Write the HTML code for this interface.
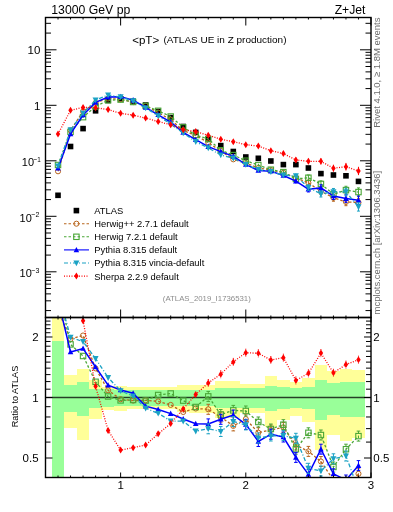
<!DOCTYPE html><html><head><meta charset="utf-8"><style>html,body{margin:0;padding:0;background:#fff;width:393px;height:512px;overflow:hidden}</style></head><body><svg width="393" height="512" viewBox="0 0 393 512" style="display:block;will-change:transform;font-family:'Liberation Sans',sans-serif">
<g shape-rendering="crispEdges">
<rect x="51.76" y="317.50" width="12.52" height="160.00" fill="#ffff99"/>
<rect x="64.28" y="375.20" width="12.52" height="52.33" fill="#ffff99"/>
<rect x="76.80" y="369.20" width="12.52" height="70.44" fill="#ffff99"/>
<rect x="89.32" y="380.30" width="12.52" height="38.64" fill="#ffff99"/>
<rect x="101.84" y="386.50" width="12.52" height="23.59" fill="#ffff99"/>
<rect x="114.36" y="386.00" width="12.52" height="24.75" fill="#ffff99"/>
<rect x="126.88" y="387.00" width="12.52" height="22.44" fill="#ffff99"/>
<rect x="139.39" y="387.00" width="12.52" height="22.44" fill="#ffff99"/>
<rect x="151.91" y="387.00" width="12.52" height="22.44" fill="#ffff99"/>
<rect x="164.43" y="387.00" width="12.52" height="22.44" fill="#ffff99"/>
<rect x="176.95" y="385.00" width="12.52" height="27.09" fill="#ffff99"/>
<rect x="189.47" y="384.50" width="12.52" height="28.28" fill="#ffff99"/>
<rect x="201.99" y="384.50" width="12.52" height="28.28" fill="#ffff99"/>
<rect x="214.51" y="381.00" width="12.52" height="36.86" fill="#ffff99"/>
<rect x="227.03" y="381.00" width="12.52" height="36.86" fill="#ffff99"/>
<rect x="239.55" y="384.00" width="12.52" height="29.48" fill="#ffff99"/>
<rect x="252.07" y="384.00" width="12.52" height="29.48" fill="#ffff99"/>
<rect x="264.59" y="375.50" width="12.52" height="51.48" fill="#ffff99"/>
<rect x="277.11" y="379.60" width="12.52" height="40.44" fill="#ffff99"/>
<rect x="289.62" y="382.30" width="12.52" height="33.62" fill="#ffff99"/>
<rect x="302.14" y="378.20" width="12.52" height="44.12" fill="#ffff99"/>
<rect x="314.66" y="365.10" width="12.52" height="84.49" fill="#ffff99"/>
<rect x="327.18" y="371.40" width="12.52" height="63.50" fill="#ffff99"/>
<rect x="339.70" y="368.70" width="12.52" height="72.07" fill="#ffff99"/>
<rect x="352.22" y="370.00" width="12.52" height="67.87" fill="#ffff99"/>
<rect x="51.76" y="340.80" width="12.52" height="136.70" fill="#99ff99"/>
<rect x="64.28" y="385.40" width="12.52" height="26.15" fill="#99ff99"/>
<rect x="76.80" y="382.40" width="12.52" height="33.37" fill="#99ff99"/>
<rect x="89.32" y="388.50" width="12.52" height="19.04" fill="#99ff99"/>
<rect x="101.84" y="389.00" width="12.52" height="17.92" fill="#99ff99"/>
<rect x="114.36" y="390.00" width="12.52" height="15.71" fill="#99ff99"/>
<rect x="126.88" y="390.00" width="12.52" height="15.71" fill="#99ff99"/>
<rect x="139.39" y="390.00" width="12.52" height="15.71" fill="#99ff99"/>
<rect x="151.91" y="390.00" width="12.52" height="15.71" fill="#99ff99"/>
<rect x="164.43" y="390.00" width="12.52" height="15.71" fill="#99ff99"/>
<rect x="176.95" y="389.50" width="12.52" height="16.81" fill="#99ff99"/>
<rect x="189.47" y="389.50" width="12.52" height="16.81" fill="#99ff99"/>
<rect x="201.99" y="389.50" width="12.52" height="16.81" fill="#99ff99"/>
<rect x="214.51" y="388.00" width="12.52" height="20.16" fill="#99ff99"/>
<rect x="227.03" y="388.00" width="12.52" height="20.16" fill="#99ff99"/>
<rect x="239.55" y="388.00" width="12.52" height="20.16" fill="#99ff99"/>
<rect x="252.07" y="388.00" width="12.52" height="20.16" fill="#99ff99"/>
<rect x="264.59" y="385.50" width="12.52" height="25.92" fill="#99ff99"/>
<rect x="277.11" y="387.00" width="12.52" height="22.44" fill="#99ff99"/>
<rect x="289.62" y="388.00" width="12.52" height="20.16" fill="#99ff99"/>
<rect x="302.14" y="387.00" width="12.52" height="22.44" fill="#99ff99"/>
<rect x="314.66" y="379.80" width="12.52" height="39.93" fill="#99ff99"/>
<rect x="327.18" y="383.20" width="12.52" height="31.41" fill="#99ff99"/>
<rect x="339.70" y="381.80" width="12.52" height="34.86" fill="#99ff99"/>
<rect x="352.22" y="381.80" width="12.52" height="34.86" fill="#99ff99"/>
</g>
<line x1="45.5" y1="397.5" x2="371.0" y2="397.5" stroke="#000" stroke-opacity="0.75" stroke-width="1.5"/>
<defs><clipPath id="cu"><rect x="45.5" y="17.5" width="325.5" height="300.0"/></clipPath><clipPath id="cr"><rect x="45.5" y="317.5" width="325.5" height="160.0"/></clipPath></defs>
<g clip-path="url(#cu)">
<rect x="55.22" y="192.50" width="5.60" height="5.60" fill="#000"/>
<rect x="67.74" y="143.70" width="5.60" height="5.60" fill="#000"/>
<rect x="80.26" y="125.80" width="5.60" height="5.60" fill="#000"/>
<rect x="92.78" y="108.00" width="5.60" height="5.60" fill="#000"/>
<rect x="105.30" y="97.70" width="5.60" height="5.60" fill="#000"/>
<rect x="117.82" y="96.00" width="5.60" height="5.60" fill="#000"/>
<rect x="130.33" y="98.50" width="5.60" height="5.60" fill="#000"/>
<rect x="142.85" y="102.20" width="5.60" height="5.60" fill="#000"/>
<rect x="155.37" y="108.70" width="5.60" height="5.60" fill="#000"/>
<rect x="167.89" y="114.80" width="5.60" height="5.60" fill="#000"/>
<rect x="180.41" y="123.70" width="5.60" height="5.60" fill="#000"/>
<rect x="192.93" y="129.60" width="5.60" height="5.60" fill="#000"/>
<rect x="205.45" y="136.50" width="5.60" height="5.60" fill="#000"/>
<rect x="217.97" y="142.80" width="5.60" height="5.60" fill="#000"/>
<rect x="230.49" y="148.70" width="5.60" height="5.60" fill="#000"/>
<rect x="243.01" y="154.20" width="5.60" height="5.60" fill="#000"/>
<rect x="255.53" y="155.50" width="5.60" height="5.60" fill="#000"/>
<rect x="268.05" y="158.20" width="5.60" height="5.60" fill="#000"/>
<rect x="280.57" y="161.80" width="5.60" height="5.60" fill="#000"/>
<rect x="293.08" y="161.80" width="5.60" height="5.60" fill="#000"/>
<rect x="305.60" y="165.20" width="5.60" height="5.60" fill="#000"/>
<rect x="318.12" y="170.80" width="5.60" height="5.60" fill="#000"/>
<rect x="330.64" y="172.20" width="5.60" height="5.60" fill="#000"/>
<rect x="343.16" y="173.00" width="5.60" height="5.60" fill="#000"/>
<rect x="355.68" y="178.60" width="5.60" height="5.60" fill="#000"/>
<polyline points="58.02,171.30 70.54,130.35 83.06,111.48 95.58,102.76 108.10,98.51 120.62,99.27 133.13,102.16 145.65,105.77 158.17,112.58 170.69,119.64 183.21,130.50 195.73,135.44 208.25,142.56 220.77,151.01 233.29,159.34 245.81,162.96 258.33,168.02 270.85,169.97 283.37,172.86 295.88,177.72 308.40,182.88 320.92,191.27 333.44,197.78 345.96,201.89 358.48,202.47" fill="none" stroke="#b8651d" stroke-width="1.3" stroke-dasharray="2.5,2"/>
<circle cx="58.02" cy="171.30" r="2.55" fill="none" stroke="#b8651d" stroke-width="1"/>
<circle cx="70.54" cy="130.35" r="2.55" fill="none" stroke="#b8651d" stroke-width="1"/>
<circle cx="83.06" cy="111.48" r="2.55" fill="none" stroke="#b8651d" stroke-width="1"/>
<circle cx="95.58" cy="102.76" r="2.55" fill="none" stroke="#b8651d" stroke-width="1"/>
<circle cx="108.10" cy="98.51" r="2.55" fill="none" stroke="#b8651d" stroke-width="1"/>
<circle cx="120.62" cy="99.27" r="2.55" fill="none" stroke="#b8651d" stroke-width="1"/>
<circle cx="133.13" cy="102.16" r="2.55" fill="none" stroke="#b8651d" stroke-width="1"/>
<circle cx="145.65" cy="105.77" r="2.55" fill="none" stroke="#b8651d" stroke-width="1"/>
<circle cx="158.17" cy="112.58" r="2.55" fill="none" stroke="#b8651d" stroke-width="1"/>
<circle cx="170.69" cy="119.64" r="2.55" fill="none" stroke="#b8651d" stroke-width="1"/>
<circle cx="183.21" cy="130.50" r="2.55" fill="none" stroke="#b8651d" stroke-width="1"/>
<circle cx="195.73" cy="135.44" r="2.55" fill="none" stroke="#b8651d" stroke-width="1"/>
<circle cx="208.25" cy="142.56" r="2.55" fill="none" stroke="#b8651d" stroke-width="1"/>
<circle cx="220.77" cy="151.01" r="2.55" fill="none" stroke="#b8651d" stroke-width="1"/>
<circle cx="233.29" cy="159.34" r="2.55" fill="none" stroke="#b8651d" stroke-width="1"/>
<path d="M245.81,161.96V163.96" stroke="#b8651d" stroke-width="1"/>
<circle cx="245.81" cy="162.96" r="2.55" fill="none" stroke="#b8651d" stroke-width="1"/>
<path d="M258.33,166.67V169.37" stroke="#b8651d" stroke-width="1"/>
<circle cx="258.33" cy="168.02" r="2.55" fill="none" stroke="#b8651d" stroke-width="1"/>
<path d="M270.85,168.27V171.67" stroke="#b8651d" stroke-width="1"/>
<circle cx="270.85" cy="169.97" r="2.55" fill="none" stroke="#b8651d" stroke-width="1"/>
<path d="M283.37,170.81V174.91" stroke="#b8651d" stroke-width="1"/>
<circle cx="283.37" cy="172.86" r="2.55" fill="none" stroke="#b8651d" stroke-width="1"/>
<path d="M295.88,175.32V180.12" stroke="#b8651d" stroke-width="1"/>
<circle cx="295.88" cy="177.72" r="2.55" fill="none" stroke="#b8651d" stroke-width="1"/>
<path d="M308.40,180.13V185.63M306.90,180.13h3M306.90,185.63h3" stroke="#b8651d" stroke-width="1"/>
<circle cx="308.40" cy="182.88" r="2.55" fill="none" stroke="#b8651d" stroke-width="1"/>
<path d="M320.92,188.17V194.37M319.42,188.17h3M319.42,194.37h3" stroke="#b8651d" stroke-width="1"/>
<circle cx="320.92" cy="191.27" r="2.55" fill="none" stroke="#b8651d" stroke-width="1"/>
<path d="M333.44,194.33V201.23M331.94,194.33h3M331.94,201.23h3" stroke="#b8651d" stroke-width="1"/>
<circle cx="333.44" cy="197.78" r="2.55" fill="none" stroke="#b8651d" stroke-width="1"/>
<path d="M345.96,198.09V205.69M344.46,198.09h3M344.46,205.69h3" stroke="#b8651d" stroke-width="1"/>
<circle cx="345.96" cy="201.89" r="2.55" fill="none" stroke="#b8651d" stroke-width="1"/>
<path d="M358.48,198.32V206.62M356.98,198.32h3M356.98,206.62h3" stroke="#b8651d" stroke-width="1"/>
<circle cx="358.48" cy="202.47" r="2.55" fill="none" stroke="#b8651d" stroke-width="1"/>
<polyline points="58.02,165.00 70.54,131.84 83.06,117.14 95.58,106.46 108.10,100.22 120.62,99.60 133.13,101.99 145.65,105.86 158.17,110.81 170.69,116.50 183.21,127.36 195.73,135.02 208.25,139.00 220.77,150.29 233.29,155.06 245.81,160.73 258.33,165.06 270.85,169.70 283.37,172.11 295.88,178.88 308.40,177.75 320.92,183.95 333.44,194.19 345.96,190.08 358.48,192.06" fill="none" stroke="#49a636" stroke-width="1.3" stroke-dasharray="2.5,2"/>
<rect x="55.32" y="162.30" width="5.40" height="5.40" fill="none" stroke="#49a636" stroke-width="1.1"/>
<rect x="67.84" y="129.14" width="5.40" height="5.40" fill="none" stroke="#49a636" stroke-width="1.1"/>
<rect x="80.36" y="114.44" width="5.40" height="5.40" fill="none" stroke="#49a636" stroke-width="1.1"/>
<rect x="92.88" y="103.76" width="5.40" height="5.40" fill="none" stroke="#49a636" stroke-width="1.1"/>
<rect x="105.40" y="97.52" width="5.40" height="5.40" fill="none" stroke="#49a636" stroke-width="1.1"/>
<rect x="117.92" y="96.90" width="5.40" height="5.40" fill="none" stroke="#49a636" stroke-width="1.1"/>
<rect x="130.43" y="99.29" width="5.40" height="5.40" fill="none" stroke="#49a636" stroke-width="1.1"/>
<rect x="142.95" y="103.16" width="5.40" height="5.40" fill="none" stroke="#49a636" stroke-width="1.1"/>
<rect x="155.47" y="108.11" width="5.40" height="5.40" fill="none" stroke="#49a636" stroke-width="1.1"/>
<rect x="167.99" y="113.80" width="5.40" height="5.40" fill="none" stroke="#49a636" stroke-width="1.1"/>
<rect x="180.51" y="124.66" width="5.40" height="5.40" fill="none" stroke="#49a636" stroke-width="1.1"/>
<rect x="193.03" y="132.32" width="5.40" height="5.40" fill="none" stroke="#49a636" stroke-width="1.1"/>
<rect x="205.55" y="136.30" width="5.40" height="5.40" fill="none" stroke="#49a636" stroke-width="1.1"/>
<rect x="218.07" y="147.59" width="5.40" height="5.40" fill="none" stroke="#49a636" stroke-width="1.1"/>
<rect x="230.59" y="152.36" width="5.40" height="5.40" fill="none" stroke="#49a636" stroke-width="1.1"/>
<path d="M245.81,159.73V161.73" stroke="#49a636" stroke-width="1"/>
<rect x="243.11" y="158.03" width="5.40" height="5.40" fill="none" stroke="#49a636" stroke-width="1.1"/>
<path d="M258.33,163.71V166.41" stroke="#49a636" stroke-width="1"/>
<rect x="255.63" y="162.36" width="5.40" height="5.40" fill="none" stroke="#49a636" stroke-width="1.1"/>
<path d="M270.85,168.00V171.40" stroke="#49a636" stroke-width="1"/>
<rect x="268.15" y="167.00" width="5.40" height="5.40" fill="none" stroke="#49a636" stroke-width="1.1"/>
<path d="M283.37,170.06V174.16" stroke="#49a636" stroke-width="1"/>
<rect x="280.67" y="169.41" width="5.40" height="5.40" fill="none" stroke="#49a636" stroke-width="1.1"/>
<path d="M295.88,176.48V181.28" stroke="#49a636" stroke-width="1"/>
<rect x="293.18" y="176.18" width="5.40" height="5.40" fill="none" stroke="#49a636" stroke-width="1.1"/>
<path d="M308.40,175.00V180.50M306.90,175.00h3M306.90,180.50h3" stroke="#49a636" stroke-width="1"/>
<rect x="305.70" y="175.05" width="5.40" height="5.40" fill="none" stroke="#49a636" stroke-width="1.1"/>
<path d="M320.92,180.85V187.05M319.42,180.85h3M319.42,187.05h3" stroke="#49a636" stroke-width="1"/>
<rect x="318.22" y="181.25" width="5.40" height="5.40" fill="none" stroke="#49a636" stroke-width="1.1"/>
<path d="M333.44,190.74V197.64M331.94,190.74h3M331.94,197.64h3" stroke="#49a636" stroke-width="1"/>
<rect x="330.74" y="191.49" width="5.40" height="5.40" fill="none" stroke="#49a636" stroke-width="1.1"/>
<path d="M345.96,186.28V193.88M344.46,186.28h3M344.46,193.88h3" stroke="#49a636" stroke-width="1"/>
<rect x="343.26" y="187.38" width="5.40" height="5.40" fill="none" stroke="#49a636" stroke-width="1.1"/>
<path d="M358.48,187.91V196.21M356.98,187.91h3M356.98,196.21h3" stroke="#49a636" stroke-width="1"/>
<rect x="355.78" y="189.36" width="5.40" height="5.40" fill="none" stroke="#49a636" stroke-width="1.1"/>
<polyline points="58.02,168.30 70.54,133.94 83.06,115.07 95.58,102.38 108.10,97.10 120.62,96.73 133.13,100.11 145.65,107.40 158.17,114.81 170.69,122.05 183.21,132.44 195.73,139.66 208.25,146.59 220.77,151.62 233.29,156.33 245.81,164.43 258.33,170.45 270.85,171.13 283.37,175.51 295.88,181.14 308.40,189.23 320.92,187.88 333.44,196.07 345.96,198.58 358.48,200.20" fill="none" stroke="#0000ff" stroke-width="1.5"/>
<path d="M58.02,165.30L60.82,170.60L55.22,170.60Z" fill="#0000ff"/>
<path d="M70.54,130.94L73.34,136.24L67.74,136.24Z" fill="#0000ff"/>
<path d="M83.06,112.07L85.86,117.37L80.26,117.37Z" fill="#0000ff"/>
<path d="M95.58,99.38L98.38,104.68L92.78,104.68Z" fill="#0000ff"/>
<path d="M108.10,94.10L110.90,99.40L105.30,99.40Z" fill="#0000ff"/>
<path d="M120.62,93.73L123.42,99.03L117.82,99.03Z" fill="#0000ff"/>
<path d="M133.13,97.11L135.93,102.41L130.33,102.41Z" fill="#0000ff"/>
<path d="M145.65,104.40L148.45,109.70L142.85,109.70Z" fill="#0000ff"/>
<path d="M158.17,111.81L160.97,117.11L155.37,117.11Z" fill="#0000ff"/>
<path d="M170.69,119.05L173.49,124.35L167.89,124.35Z" fill="#0000ff"/>
<path d="M183.21,129.44L186.01,134.74L180.41,134.74Z" fill="#0000ff"/>
<path d="M195.73,136.66L198.53,141.96L192.93,141.96Z" fill="#0000ff"/>
<path d="M208.25,143.59L211.05,148.89L205.45,148.89Z" fill="#0000ff"/>
<path d="M220.77,148.62L223.57,153.92L217.97,153.92Z" fill="#0000ff"/>
<path d="M233.29,153.33L236.09,158.63L230.49,158.63Z" fill="#0000ff"/>
<path d="M245.81,163.43V165.43" stroke="#0000ff" stroke-width="1"/>
<path d="M245.81,161.43L248.61,166.73L243.01,166.73Z" fill="#0000ff"/>
<path d="M258.33,169.10V171.80" stroke="#0000ff" stroke-width="1"/>
<path d="M258.33,167.45L261.13,172.75L255.53,172.75Z" fill="#0000ff"/>
<path d="M270.85,169.43V172.83" stroke="#0000ff" stroke-width="1"/>
<path d="M270.85,168.13L273.65,173.43L268.05,173.43Z" fill="#0000ff"/>
<path d="M283.37,173.46V177.56" stroke="#0000ff" stroke-width="1"/>
<path d="M283.37,172.51L286.17,177.81L280.57,177.81Z" fill="#0000ff"/>
<path d="M295.88,178.74V183.54" stroke="#0000ff" stroke-width="1"/>
<path d="M295.88,178.14L298.68,183.44L293.08,183.44Z" fill="#0000ff"/>
<path d="M308.40,186.48V191.98M306.90,186.48h3M306.90,191.98h3" stroke="#0000ff" stroke-width="1"/>
<path d="M308.40,186.23L311.20,191.53L305.60,191.53Z" fill="#0000ff"/>
<path d="M320.92,184.78V190.98M319.42,184.78h3M319.42,190.98h3" stroke="#0000ff" stroke-width="1"/>
<path d="M320.92,184.88L323.72,190.18L318.12,190.18Z" fill="#0000ff"/>
<path d="M333.44,192.62V199.52M331.94,192.62h3M331.94,199.52h3" stroke="#0000ff" stroke-width="1"/>
<path d="M333.44,193.07L336.24,198.37L330.64,198.37Z" fill="#0000ff"/>
<path d="M345.96,194.78V202.38M344.46,194.78h3M344.46,202.38h3" stroke="#0000ff" stroke-width="1"/>
<path d="M345.96,195.58L348.76,200.88L343.16,200.88Z" fill="#0000ff"/>
<path d="M358.48,196.05V204.35M356.98,196.05h3M356.98,204.35h3" stroke="#0000ff" stroke-width="1"/>
<path d="M358.48,197.20L361.28,202.50L355.68,202.50Z" fill="#0000ff"/>
<polyline points="58.02,166.00 70.54,129.88 83.06,113.19 95.58,100.06 108.10,95.01 120.62,96.95 133.13,100.89 145.65,107.98 158.17,115.86 170.69,124.09 183.21,133.04 195.73,141.71 208.25,147.94 220.77,154.99 233.29,158.13 245.81,164.57 258.33,169.48 270.85,171.63 283.37,175.12 295.88,175.87 308.40,187.55 320.92,193.89 333.44,191.93 345.96,191.95 358.48,206.94" fill="none" stroke="#1ba2c4" stroke-width="1.3" stroke-dasharray="4,2,1,2"/>
<path d="M58.02,169.30L61.02,163.40L55.02,163.40Z" fill="#1ba2c4"/>
<path d="M70.54,133.18L73.54,127.28L67.54,127.28Z" fill="#1ba2c4"/>
<path d="M83.06,116.49L86.06,110.59L80.06,110.59Z" fill="#1ba2c4"/>
<path d="M95.58,103.36L98.58,97.46L92.58,97.46Z" fill="#1ba2c4"/>
<path d="M108.10,98.31L111.10,92.41L105.10,92.41Z" fill="#1ba2c4"/>
<path d="M120.62,100.25L123.62,94.35L117.62,94.35Z" fill="#1ba2c4"/>
<path d="M133.13,104.19L136.13,98.29L130.13,98.29Z" fill="#1ba2c4"/>
<path d="M145.65,111.28L148.65,105.38L142.65,105.38Z" fill="#1ba2c4"/>
<path d="M158.17,119.16L161.17,113.26L155.17,113.26Z" fill="#1ba2c4"/>
<path d="M170.69,127.39L173.69,121.49L167.69,121.49Z" fill="#1ba2c4"/>
<path d="M183.21,136.34L186.21,130.44L180.21,130.44Z" fill="#1ba2c4"/>
<path d="M195.73,145.01L198.73,139.11L192.73,139.11Z" fill="#1ba2c4"/>
<path d="M208.25,151.24L211.25,145.34L205.25,145.34Z" fill="#1ba2c4"/>
<path d="M220.77,158.29L223.77,152.39L217.77,152.39Z" fill="#1ba2c4"/>
<path d="M233.29,161.43L236.29,155.53L230.29,155.53Z" fill="#1ba2c4"/>
<path d="M245.81,163.57V165.57" stroke="#1ba2c4" stroke-width="1"/>
<path d="M245.81,167.87L248.81,161.97L242.81,161.97Z" fill="#1ba2c4"/>
<path d="M258.33,168.13V170.83" stroke="#1ba2c4" stroke-width="1"/>
<path d="M258.33,172.78L261.33,166.88L255.33,166.88Z" fill="#1ba2c4"/>
<path d="M270.85,169.93V173.33" stroke="#1ba2c4" stroke-width="1"/>
<path d="M270.85,174.93L273.85,169.03L267.85,169.03Z" fill="#1ba2c4"/>
<path d="M283.37,173.07V177.17" stroke="#1ba2c4" stroke-width="1"/>
<path d="M283.37,178.42L286.37,172.52L280.37,172.52Z" fill="#1ba2c4"/>
<path d="M295.88,173.47V178.27" stroke="#1ba2c4" stroke-width="1"/>
<path d="M295.88,179.17L298.88,173.27L292.88,173.27Z" fill="#1ba2c4"/>
<path d="M308.40,184.80V190.30M306.90,184.80h3M306.90,190.30h3" stroke="#1ba2c4" stroke-width="1"/>
<path d="M308.40,190.85L311.40,184.95L305.40,184.95Z" fill="#1ba2c4"/>
<path d="M320.92,190.79V196.99M319.42,190.79h3M319.42,196.99h3" stroke="#1ba2c4" stroke-width="1"/>
<path d="M320.92,197.19L323.92,191.29L317.92,191.29Z" fill="#1ba2c4"/>
<path d="M333.44,188.48V195.38M331.94,188.48h3M331.94,195.38h3" stroke="#1ba2c4" stroke-width="1"/>
<path d="M333.44,195.23L336.44,189.33L330.44,189.33Z" fill="#1ba2c4"/>
<path d="M345.96,188.15V195.75M344.46,188.15h3M344.46,195.75h3" stroke="#1ba2c4" stroke-width="1"/>
<path d="M345.96,195.25L348.96,189.35L342.96,189.35Z" fill="#1ba2c4"/>
<path d="M358.48,202.79V211.09M356.98,202.79h3M356.98,211.09h3" stroke="#1ba2c4" stroke-width="1"/>
<path d="M358.48,210.24L361.48,204.34L355.48,204.34Z" fill="#1ba2c4"/>
<polyline points="58.02,134.00 70.54,110.30 83.06,107.39 95.58,107.71 108.10,109.58 120.62,113.32 133.13,115.16 145.65,118.12 158.17,121.52 170.69,124.81 183.21,129.65 195.73,131.57 208.25,135.30 220.77,139.17 233.29,141.67 245.81,144.63 258.33,146.10 270.85,150.65 283.37,153.61 295.88,159.88 308.40,161.32 320.92,161.34 333.44,168.18 345.96,166.72 358.48,170.96" fill="none" stroke="#ff0000" stroke-width="1.3" stroke-dasharray="1,1.5"/>
<path d="M58.02,130.50L60.22,134.00L58.02,137.50L55.82,134.00Z" fill="#ff0000"/>
<path d="M70.54,106.80L72.74,110.30L70.54,113.80L68.34,110.30Z" fill="#ff0000"/>
<path d="M83.06,103.89L85.26,107.39L83.06,110.89L80.86,107.39Z" fill="#ff0000"/>
<path d="M95.58,104.21L97.78,107.71L95.58,111.21L93.38,107.71Z" fill="#ff0000"/>
<path d="M108.10,106.08L110.30,109.58L108.10,113.08L105.90,109.58Z" fill="#ff0000"/>
<path d="M120.62,109.82L122.82,113.32L120.62,116.82L118.42,113.32Z" fill="#ff0000"/>
<path d="M133.13,111.66L135.33,115.16L133.13,118.66L130.93,115.16Z" fill="#ff0000"/>
<path d="M145.65,114.62L147.85,118.12L145.65,121.62L143.45,118.12Z" fill="#ff0000"/>
<path d="M158.17,118.02L160.37,121.52L158.17,125.02L155.97,121.52Z" fill="#ff0000"/>
<path d="M170.69,121.31L172.89,124.81L170.69,128.31L168.49,124.81Z" fill="#ff0000"/>
<path d="M183.21,126.15L185.41,129.65L183.21,133.15L181.01,129.65Z" fill="#ff0000"/>
<path d="M195.73,128.07L197.93,131.57L195.73,135.07L193.53,131.57Z" fill="#ff0000"/>
<path d="M208.25,131.80L210.45,135.30L208.25,138.80L206.05,135.30Z" fill="#ff0000"/>
<path d="M220.77,135.67L222.97,139.17L220.77,142.67L218.57,139.17Z" fill="#ff0000"/>
<path d="M233.29,138.17L235.49,141.67L233.29,145.17L231.09,141.67Z" fill="#ff0000"/>
<path d="M245.81,143.63V145.63" stroke="#ff0000" stroke-width="1"/>
<path d="M245.81,141.13L248.01,144.63L245.81,148.13L243.61,144.63Z" fill="#ff0000"/>
<path d="M258.33,144.75V147.45" stroke="#ff0000" stroke-width="1"/>
<path d="M258.33,142.60L260.53,146.10L258.33,149.60L256.13,146.10Z" fill="#ff0000"/>
<path d="M270.85,148.95V152.35" stroke="#ff0000" stroke-width="1"/>
<path d="M270.85,147.15L273.05,150.65L270.85,154.15L268.65,150.65Z" fill="#ff0000"/>
<path d="M283.37,151.56V155.66" stroke="#ff0000" stroke-width="1"/>
<path d="M283.37,150.11L285.57,153.61L283.37,157.11L281.17,153.61Z" fill="#ff0000"/>
<path d="M295.88,157.48V162.28" stroke="#ff0000" stroke-width="1"/>
<path d="M295.88,156.38L298.08,159.88L295.88,163.38L293.68,159.88Z" fill="#ff0000"/>
<path d="M308.40,158.57V164.07" stroke="#ff0000" stroke-width="1"/>
<path d="M308.40,157.82L310.60,161.32L308.40,164.82L306.20,161.32Z" fill="#ff0000"/>
<path d="M320.92,158.24V164.44" stroke="#ff0000" stroke-width="1"/>
<path d="M320.92,157.84L323.12,161.34L320.92,164.84L318.72,161.34Z" fill="#ff0000"/>
<path d="M333.44,164.73V171.63" stroke="#ff0000" stroke-width="1"/>
<path d="M333.44,164.68L335.64,168.18L333.44,171.68L331.24,168.18Z" fill="#ff0000"/>
<path d="M345.96,162.92V170.52" stroke="#ff0000" stroke-width="1"/>
<path d="M345.96,163.22L348.16,166.72L345.96,170.22L343.76,166.72Z" fill="#ff0000"/>
<path d="M358.48,166.81V175.11" stroke="#ff0000" stroke-width="1"/>
<path d="M358.48,167.46L360.68,170.96L358.48,174.46L356.28,170.96Z" fill="#ff0000"/>
</g>
<g clip-path="url(#cr)">
<polyline points="58.02,310.58 70.54,339.00 83.06,335.50 95.58,368.40 108.10,390.30 120.62,399.20 133.13,400.60 145.65,400.30 158.17,401.40 170.69,404.90 183.21,412.00 195.73,408.50 208.25,409.30 220.77,417.10 233.29,425.90 245.81,419.10 258.33,432.70 270.85,430.00 283.37,427.40 295.88,445.00 308.40,451.40 320.92,461.50 333.44,480.00 345.96,492.00 358.48,473.80" fill="none" stroke="#b8651d" stroke-width="1.3" stroke-dasharray="2.5,2"/>
<circle cx="58.02" cy="310.58" r="2.55" fill="none" stroke="#b8651d" stroke-width="1"/>
<circle cx="70.54" cy="339.00" r="2.55" fill="none" stroke="#b8651d" stroke-width="1"/>
<circle cx="83.06" cy="335.50" r="2.55" fill="none" stroke="#b8651d" stroke-width="1"/>
<circle cx="95.58" cy="368.40" r="2.55" fill="none" stroke="#b8651d" stroke-width="1"/>
<circle cx="108.10" cy="390.30" r="2.55" fill="none" stroke="#b8651d" stroke-width="1"/>
<circle cx="120.62" cy="399.20" r="2.55" fill="none" stroke="#b8651d" stroke-width="1"/>
<circle cx="133.13" cy="400.60" r="2.55" fill="none" stroke="#b8651d" stroke-width="1"/>
<circle cx="145.65" cy="400.30" r="2.55" fill="none" stroke="#b8651d" stroke-width="1"/>
<circle cx="158.17" cy="401.40" r="2.55" fill="none" stroke="#b8651d" stroke-width="1"/>
<circle cx="170.69" cy="404.90" r="2.55" fill="none" stroke="#b8651d" stroke-width="1"/>
<circle cx="183.21" cy="412.00" r="2.55" fill="none" stroke="#b8651d" stroke-width="1"/>
<circle cx="195.73" cy="408.50" r="2.55" fill="none" stroke="#b8651d" stroke-width="1"/>
<path d="M208.25,404.30V414.30" stroke="#b8651d" stroke-width="1" stroke-dasharray="2.5,2"/>
<path d="M206.45,404.30h3.6M206.45,414.30h3.6" stroke="#b8651d" stroke-width="1"/>
<circle cx="208.25" cy="409.30" r="2.55" fill="none" stroke="#b8651d" stroke-width="1"/>
<path d="M220.77,412.10V422.10" stroke="#b8651d" stroke-width="1" stroke-dasharray="2.5,2"/>
<path d="M218.97,412.10h3.6M218.97,422.10h3.6" stroke="#b8651d" stroke-width="1"/>
<circle cx="220.77" cy="417.10" r="2.55" fill="none" stroke="#b8651d" stroke-width="1"/>
<path d="M233.29,420.90V430.90" stroke="#b8651d" stroke-width="1" stroke-dasharray="2.5,2"/>
<path d="M231.49,420.90h3.6M231.49,430.90h3.6" stroke="#b8651d" stroke-width="1"/>
<circle cx="233.29" cy="425.90" r="2.55" fill="none" stroke="#b8651d" stroke-width="1"/>
<path d="M245.81,414.10V424.10" stroke="#b8651d" stroke-width="1" stroke-dasharray="2.5,2"/>
<path d="M244.01,414.10h3.6M244.01,424.10h3.6" stroke="#b8651d" stroke-width="1"/>
<circle cx="245.81" cy="419.10" r="2.55" fill="none" stroke="#b8651d" stroke-width="1"/>
<path d="M258.33,427.70V437.70" stroke="#b8651d" stroke-width="1" stroke-dasharray="2.5,2"/>
<path d="M256.53,427.70h3.6M256.53,437.70h3.6" stroke="#b8651d" stroke-width="1"/>
<circle cx="258.33" cy="432.70" r="2.55" fill="none" stroke="#b8651d" stroke-width="1"/>
<path d="M270.85,425.00V435.00" stroke="#b8651d" stroke-width="1" stroke-dasharray="2.5,2"/>
<path d="M269.05,425.00h3.6M269.05,435.00h3.6" stroke="#b8651d" stroke-width="1"/>
<circle cx="270.85" cy="430.00" r="2.55" fill="none" stroke="#b8651d" stroke-width="1"/>
<path d="M283.37,422.40V432.40" stroke="#b8651d" stroke-width="1" stroke-dasharray="2.5,2"/>
<path d="M281.57,422.40h3.6M281.57,432.40h3.6" stroke="#b8651d" stroke-width="1"/>
<circle cx="283.37" cy="427.40" r="2.55" fill="none" stroke="#b8651d" stroke-width="1"/>
<path d="M295.88,440.00V450.00" stroke="#b8651d" stroke-width="1" stroke-dasharray="2.5,2"/>
<path d="M294.08,440.00h3.6M294.08,450.00h3.6" stroke="#b8651d" stroke-width="1"/>
<circle cx="295.88" cy="445.00" r="2.55" fill="none" stroke="#b8651d" stroke-width="1"/>
<path d="M308.40,446.40V456.40" stroke="#b8651d" stroke-width="1" stroke-dasharray="2.5,2"/>
<path d="M306.60,446.40h3.6M306.60,456.40h3.6" stroke="#b8651d" stroke-width="1"/>
<circle cx="308.40" cy="451.40" r="2.55" fill="none" stroke="#b8651d" stroke-width="1"/>
<path d="M320.92,456.50V466.50" stroke="#b8651d" stroke-width="1" stroke-dasharray="2.5,2"/>
<path d="M319.12,456.50h3.6M319.12,466.50h3.6" stroke="#b8651d" stroke-width="1"/>
<circle cx="320.92" cy="461.50" r="2.55" fill="none" stroke="#b8651d" stroke-width="1"/>
<path d="M333.44,475.00V485.00" stroke="#b8651d" stroke-width="1" stroke-dasharray="2.5,2"/>
<path d="M331.64,475.00h3.6M331.64,485.00h3.6" stroke="#b8651d" stroke-width="1"/>
<circle cx="333.44" cy="480.00" r="2.55" fill="none" stroke="#b8651d" stroke-width="1"/>
<path d="M345.96,487.00V497.00" stroke="#b8651d" stroke-width="1" stroke-dasharray="2.5,2"/>
<path d="M344.16,487.00h3.6M344.16,497.00h3.6" stroke="#b8651d" stroke-width="1"/>
<circle cx="345.96" cy="492.00" r="2.55" fill="none" stroke="#b8651d" stroke-width="1"/>
<path d="M358.48,468.80V478.80" stroke="#b8651d" stroke-width="1" stroke-dasharray="2.5,2"/>
<path d="M356.68,468.80h3.6M356.68,478.80h3.6" stroke="#b8651d" stroke-width="1"/>
<circle cx="358.48" cy="473.80" r="2.55" fill="none" stroke="#b8651d" stroke-width="1"/>
<polyline points="58.02,287.76 70.54,344.40 83.06,356.00 95.58,381.80 108.10,396.50 120.62,400.40 133.13,400.00 145.65,400.60 158.17,395.00 170.69,393.50 183.21,400.60 195.73,407.00 208.25,396.40 220.77,414.50 233.29,410.40 245.81,411.00 258.33,422.00 270.85,429.00 283.37,424.70 295.88,449.20 308.40,432.80 320.92,435.00 333.44,467.00 345.96,449.20 358.48,436.10" fill="none" stroke="#49a636" stroke-width="1.3" stroke-dasharray="2.5,2"/>
<rect x="55.32" y="285.06" width="5.40" height="5.40" fill="none" stroke="#49a636" stroke-width="1.1"/>
<rect x="67.84" y="341.70" width="5.40" height="5.40" fill="none" stroke="#49a636" stroke-width="1.1"/>
<rect x="80.36" y="353.30" width="5.40" height="5.40" fill="none" stroke="#49a636" stroke-width="1.1"/>
<rect x="92.88" y="379.10" width="5.40" height="5.40" fill="none" stroke="#49a636" stroke-width="1.1"/>
<rect x="105.40" y="393.80" width="5.40" height="5.40" fill="none" stroke="#49a636" stroke-width="1.1"/>
<rect x="117.92" y="397.70" width="5.40" height="5.40" fill="none" stroke="#49a636" stroke-width="1.1"/>
<rect x="130.43" y="397.30" width="5.40" height="5.40" fill="none" stroke="#49a636" stroke-width="1.1"/>
<rect x="142.95" y="397.90" width="5.40" height="5.40" fill="none" stroke="#49a636" stroke-width="1.1"/>
<rect x="155.47" y="392.30" width="5.40" height="5.40" fill="none" stroke="#49a636" stroke-width="1.1"/>
<rect x="167.99" y="390.80" width="5.40" height="5.40" fill="none" stroke="#49a636" stroke-width="1.1"/>
<rect x="180.51" y="397.90" width="5.40" height="5.40" fill="none" stroke="#49a636" stroke-width="1.1"/>
<rect x="193.03" y="404.30" width="5.40" height="5.40" fill="none" stroke="#49a636" stroke-width="1.1"/>
<path d="M208.25,391.40V401.40" stroke="#49a636" stroke-width="1" stroke-dasharray="2.5,2"/>
<path d="M206.45,391.40h3.6M206.45,401.40h3.6" stroke="#49a636" stroke-width="1"/>
<rect x="205.55" y="393.70" width="5.40" height="5.40" fill="none" stroke="#49a636" stroke-width="1.1"/>
<path d="M220.77,409.50V419.50" stroke="#49a636" stroke-width="1" stroke-dasharray="2.5,2"/>
<path d="M218.97,409.50h3.6M218.97,419.50h3.6" stroke="#49a636" stroke-width="1"/>
<rect x="218.07" y="411.80" width="5.40" height="5.40" fill="none" stroke="#49a636" stroke-width="1.1"/>
<path d="M233.29,405.40V415.40" stroke="#49a636" stroke-width="1" stroke-dasharray="2.5,2"/>
<path d="M231.49,405.40h3.6M231.49,415.40h3.6" stroke="#49a636" stroke-width="1"/>
<rect x="230.59" y="407.70" width="5.40" height="5.40" fill="none" stroke="#49a636" stroke-width="1.1"/>
<path d="M245.81,406.00V416.00" stroke="#49a636" stroke-width="1" stroke-dasharray="2.5,2"/>
<path d="M244.01,406.00h3.6M244.01,416.00h3.6" stroke="#49a636" stroke-width="1"/>
<rect x="243.11" y="408.30" width="5.40" height="5.40" fill="none" stroke="#49a636" stroke-width="1.1"/>
<path d="M258.33,417.00V427.00" stroke="#49a636" stroke-width="1" stroke-dasharray="2.5,2"/>
<path d="M256.53,417.00h3.6M256.53,427.00h3.6" stroke="#49a636" stroke-width="1"/>
<rect x="255.63" y="419.30" width="5.40" height="5.40" fill="none" stroke="#49a636" stroke-width="1.1"/>
<path d="M270.85,424.00V434.00" stroke="#49a636" stroke-width="1" stroke-dasharray="2.5,2"/>
<path d="M269.05,424.00h3.6M269.05,434.00h3.6" stroke="#49a636" stroke-width="1"/>
<rect x="268.15" y="426.30" width="5.40" height="5.40" fill="none" stroke="#49a636" stroke-width="1.1"/>
<path d="M283.37,419.70V429.70" stroke="#49a636" stroke-width="1" stroke-dasharray="2.5,2"/>
<path d="M281.57,419.70h3.6M281.57,429.70h3.6" stroke="#49a636" stroke-width="1"/>
<rect x="280.67" y="422.00" width="5.40" height="5.40" fill="none" stroke="#49a636" stroke-width="1.1"/>
<path d="M295.88,444.20V454.20" stroke="#49a636" stroke-width="1" stroke-dasharray="2.5,2"/>
<path d="M294.08,444.20h3.6M294.08,454.20h3.6" stroke="#49a636" stroke-width="1"/>
<rect x="293.18" y="446.50" width="5.40" height="5.40" fill="none" stroke="#49a636" stroke-width="1.1"/>
<path d="M308.40,427.80V437.80" stroke="#49a636" stroke-width="1" stroke-dasharray="2.5,2"/>
<path d="M306.60,427.80h3.6M306.60,437.80h3.6" stroke="#49a636" stroke-width="1"/>
<rect x="305.70" y="430.10" width="5.40" height="5.40" fill="none" stroke="#49a636" stroke-width="1.1"/>
<path d="M320.92,430.00V440.00" stroke="#49a636" stroke-width="1" stroke-dasharray="2.5,2"/>
<path d="M319.12,430.00h3.6M319.12,440.00h3.6" stroke="#49a636" stroke-width="1"/>
<rect x="318.22" y="432.30" width="5.40" height="5.40" fill="none" stroke="#49a636" stroke-width="1.1"/>
<path d="M333.44,462.00V472.00" stroke="#49a636" stroke-width="1" stroke-dasharray="2.5,2"/>
<path d="M331.64,462.00h3.6M331.64,472.00h3.6" stroke="#49a636" stroke-width="1"/>
<rect x="330.74" y="464.30" width="5.40" height="5.40" fill="none" stroke="#49a636" stroke-width="1.1"/>
<path d="M345.96,444.20V454.20" stroke="#49a636" stroke-width="1" stroke-dasharray="2.5,2"/>
<path d="M344.16,444.20h3.6M344.16,454.20h3.6" stroke="#49a636" stroke-width="1"/>
<rect x="343.26" y="446.50" width="5.40" height="5.40" fill="none" stroke="#49a636" stroke-width="1.1"/>
<path d="M358.48,431.10V441.10" stroke="#49a636" stroke-width="1" stroke-dasharray="2.5,2"/>
<path d="M356.68,431.10h3.6M356.68,441.10h3.6" stroke="#49a636" stroke-width="1"/>
<rect x="355.78" y="433.40" width="5.40" height="5.40" fill="none" stroke="#49a636" stroke-width="1.1"/>
<polyline points="58.02,299.72 70.54,352.00 83.06,348.50 95.58,367.00 108.10,385.20 120.62,390.00 133.13,393.20 145.65,406.20 158.17,409.50 170.69,413.60 183.21,419.00 195.73,423.80 208.25,423.90 220.77,419.30 233.29,415.00 245.81,424.40 258.33,441.50 270.85,434.20 283.37,437.00 295.88,457.40 308.40,474.40 320.92,449.20 333.44,473.80 345.96,480.00 358.48,465.60" fill="none" stroke="#0000ff" stroke-width="1.5"/>
<path d="M58.02,296.72L60.82,302.02L55.22,302.02Z" fill="#0000ff"/>
<path d="M70.54,349.00L73.34,354.30L67.74,354.30Z" fill="#0000ff"/>
<path d="M83.06,345.50L85.86,350.80L80.26,350.80Z" fill="#0000ff"/>
<path d="M95.58,364.00L98.38,369.30L92.78,369.30Z" fill="#0000ff"/>
<path d="M108.10,382.20L110.90,387.50L105.30,387.50Z" fill="#0000ff"/>
<path d="M120.62,387.00L123.42,392.30L117.82,392.30Z" fill="#0000ff"/>
<path d="M133.13,390.20L135.93,395.50L130.33,395.50Z" fill="#0000ff"/>
<path d="M145.65,403.20L148.45,408.50L142.85,408.50Z" fill="#0000ff"/>
<path d="M158.17,406.50L160.97,411.80L155.37,411.80Z" fill="#0000ff"/>
<path d="M170.69,410.60L173.49,415.90L167.89,415.90Z" fill="#0000ff"/>
<path d="M183.21,416.00L186.01,421.30L180.41,421.30Z" fill="#0000ff"/>
<path d="M195.73,420.80L198.53,426.10L192.93,426.10Z" fill="#0000ff"/>
<path d="M208.25,418.90V428.90" stroke="#0000ff" stroke-width="1"/>
<path d="M206.45,418.90h3.6M206.45,428.90h3.6" stroke="#0000ff" stroke-width="1"/>
<path d="M208.25,420.90L211.05,426.20L205.45,426.20Z" fill="#0000ff"/>
<path d="M220.77,414.30V424.30" stroke="#0000ff" stroke-width="1"/>
<path d="M218.97,414.30h3.6M218.97,424.30h3.6" stroke="#0000ff" stroke-width="1"/>
<path d="M220.77,416.30L223.57,421.60L217.97,421.60Z" fill="#0000ff"/>
<path d="M233.29,410.00V420.00" stroke="#0000ff" stroke-width="1"/>
<path d="M231.49,410.00h3.6M231.49,420.00h3.6" stroke="#0000ff" stroke-width="1"/>
<path d="M233.29,412.00L236.09,417.30L230.49,417.30Z" fill="#0000ff"/>
<path d="M245.81,419.40V429.40" stroke="#0000ff" stroke-width="1"/>
<path d="M244.01,419.40h3.6M244.01,429.40h3.6" stroke="#0000ff" stroke-width="1"/>
<path d="M245.81,421.40L248.61,426.70L243.01,426.70Z" fill="#0000ff"/>
<path d="M258.33,436.50V446.50" stroke="#0000ff" stroke-width="1"/>
<path d="M256.53,436.50h3.6M256.53,446.50h3.6" stroke="#0000ff" stroke-width="1"/>
<path d="M258.33,438.50L261.13,443.80L255.53,443.80Z" fill="#0000ff"/>
<path d="M270.85,429.20V439.20" stroke="#0000ff" stroke-width="1"/>
<path d="M269.05,429.20h3.6M269.05,439.20h3.6" stroke="#0000ff" stroke-width="1"/>
<path d="M270.85,431.20L273.65,436.50L268.05,436.50Z" fill="#0000ff"/>
<path d="M283.37,432.00V442.00" stroke="#0000ff" stroke-width="1"/>
<path d="M281.57,432.00h3.6M281.57,442.00h3.6" stroke="#0000ff" stroke-width="1"/>
<path d="M283.37,434.00L286.17,439.30L280.57,439.30Z" fill="#0000ff"/>
<path d="M295.88,452.40V462.40" stroke="#0000ff" stroke-width="1"/>
<path d="M294.08,452.40h3.6M294.08,462.40h3.6" stroke="#0000ff" stroke-width="1"/>
<path d="M295.88,454.40L298.68,459.70L293.08,459.70Z" fill="#0000ff"/>
<path d="M308.40,469.40V479.40" stroke="#0000ff" stroke-width="1"/>
<path d="M306.60,469.40h3.6M306.60,479.40h3.6" stroke="#0000ff" stroke-width="1"/>
<path d="M308.40,471.40L311.20,476.70L305.60,476.70Z" fill="#0000ff"/>
<path d="M320.92,444.20V454.20" stroke="#0000ff" stroke-width="1"/>
<path d="M319.12,444.20h3.6M319.12,454.20h3.6" stroke="#0000ff" stroke-width="1"/>
<path d="M320.92,446.20L323.72,451.50L318.12,451.50Z" fill="#0000ff"/>
<path d="M333.44,468.80V478.80" stroke="#0000ff" stroke-width="1"/>
<path d="M331.64,468.80h3.6M331.64,478.80h3.6" stroke="#0000ff" stroke-width="1"/>
<path d="M333.44,470.80L336.24,476.10L330.64,476.10Z" fill="#0000ff"/>
<path d="M345.96,475.00V485.00" stroke="#0000ff" stroke-width="1"/>
<path d="M344.16,475.00h3.6M344.16,485.00h3.6" stroke="#0000ff" stroke-width="1"/>
<path d="M345.96,477.00L348.76,482.30L343.16,482.30Z" fill="#0000ff"/>
<path d="M358.48,460.60V470.60" stroke="#0000ff" stroke-width="1"/>
<path d="M356.68,460.60h3.6M356.68,470.60h3.6" stroke="#0000ff" stroke-width="1"/>
<path d="M358.48,462.60L361.28,467.90L355.68,467.90Z" fill="#0000ff"/>
<polyline points="58.02,291.39 70.54,337.30 83.06,341.70 95.58,358.60 108.10,377.60 120.62,390.80 133.13,396.00 145.65,408.30 158.17,413.30 170.69,421.00 183.21,421.20 195.73,431.20 208.25,428.80 220.77,431.50 233.29,421.50 245.81,424.90 258.33,438.00 270.85,436.00 283.37,435.60 295.88,438.30 308.40,468.30 320.92,471.00 333.44,458.80 345.96,456.00 358.48,490.00" fill="none" stroke="#1ba2c4" stroke-width="1.3" stroke-dasharray="4,2,1,2"/>
<path d="M58.02,294.69L61.02,288.79L55.02,288.79Z" fill="#1ba2c4"/>
<path d="M70.54,340.60L73.54,334.70L67.54,334.70Z" fill="#1ba2c4"/>
<path d="M83.06,345.00L86.06,339.10L80.06,339.10Z" fill="#1ba2c4"/>
<path d="M95.58,361.90L98.58,356.00L92.58,356.00Z" fill="#1ba2c4"/>
<path d="M108.10,380.90L111.10,375.00L105.10,375.00Z" fill="#1ba2c4"/>
<path d="M120.62,394.10L123.62,388.20L117.62,388.20Z" fill="#1ba2c4"/>
<path d="M133.13,399.30L136.13,393.40L130.13,393.40Z" fill="#1ba2c4"/>
<path d="M145.65,411.60L148.65,405.70L142.65,405.70Z" fill="#1ba2c4"/>
<path d="M158.17,416.60L161.17,410.70L155.17,410.70Z" fill="#1ba2c4"/>
<path d="M170.69,424.30L173.69,418.40L167.69,418.40Z" fill="#1ba2c4"/>
<path d="M183.21,424.50L186.21,418.60L180.21,418.60Z" fill="#1ba2c4"/>
<path d="M195.73,434.50L198.73,428.60L192.73,428.60Z" fill="#1ba2c4"/>
<path d="M208.25,423.80V433.80" stroke="#1ba2c4" stroke-width="1" stroke-dasharray="4,2,1,2"/>
<path d="M206.45,423.80h3.6M206.45,433.80h3.6" stroke="#1ba2c4" stroke-width="1"/>
<path d="M208.25,432.10L211.25,426.20L205.25,426.20Z" fill="#1ba2c4"/>
<path d="M220.77,426.50V436.50" stroke="#1ba2c4" stroke-width="1" stroke-dasharray="4,2,1,2"/>
<path d="M218.97,426.50h3.6M218.97,436.50h3.6" stroke="#1ba2c4" stroke-width="1"/>
<path d="M220.77,434.80L223.77,428.90L217.77,428.90Z" fill="#1ba2c4"/>
<path d="M233.29,416.50V426.50" stroke="#1ba2c4" stroke-width="1" stroke-dasharray="4,2,1,2"/>
<path d="M231.49,416.50h3.6M231.49,426.50h3.6" stroke="#1ba2c4" stroke-width="1"/>
<path d="M233.29,424.80L236.29,418.90L230.29,418.90Z" fill="#1ba2c4"/>
<path d="M245.81,419.90V429.90" stroke="#1ba2c4" stroke-width="1" stroke-dasharray="4,2,1,2"/>
<path d="M244.01,419.90h3.6M244.01,429.90h3.6" stroke="#1ba2c4" stroke-width="1"/>
<path d="M245.81,428.20L248.81,422.30L242.81,422.30Z" fill="#1ba2c4"/>
<path d="M258.33,433.00V443.00" stroke="#1ba2c4" stroke-width="1" stroke-dasharray="4,2,1,2"/>
<path d="M256.53,433.00h3.6M256.53,443.00h3.6" stroke="#1ba2c4" stroke-width="1"/>
<path d="M258.33,441.30L261.33,435.40L255.33,435.40Z" fill="#1ba2c4"/>
<path d="M270.85,431.00V441.00" stroke="#1ba2c4" stroke-width="1" stroke-dasharray="4,2,1,2"/>
<path d="M269.05,431.00h3.6M269.05,441.00h3.6" stroke="#1ba2c4" stroke-width="1"/>
<path d="M270.85,439.30L273.85,433.40L267.85,433.40Z" fill="#1ba2c4"/>
<path d="M283.37,430.60V440.60" stroke="#1ba2c4" stroke-width="1" stroke-dasharray="4,2,1,2"/>
<path d="M281.57,430.60h3.6M281.57,440.60h3.6" stroke="#1ba2c4" stroke-width="1"/>
<path d="M283.37,438.90L286.37,433.00L280.37,433.00Z" fill="#1ba2c4"/>
<path d="M295.88,433.30V443.30" stroke="#1ba2c4" stroke-width="1" stroke-dasharray="4,2,1,2"/>
<path d="M294.08,433.30h3.6M294.08,443.30h3.6" stroke="#1ba2c4" stroke-width="1"/>
<path d="M295.88,441.60L298.88,435.70L292.88,435.70Z" fill="#1ba2c4"/>
<path d="M308.40,463.30V473.30" stroke="#1ba2c4" stroke-width="1" stroke-dasharray="4,2,1,2"/>
<path d="M306.60,463.30h3.6M306.60,473.30h3.6" stroke="#1ba2c4" stroke-width="1"/>
<path d="M308.40,471.60L311.40,465.70L305.40,465.70Z" fill="#1ba2c4"/>
<path d="M320.92,466.00V476.00" stroke="#1ba2c4" stroke-width="1" stroke-dasharray="4,2,1,2"/>
<path d="M319.12,466.00h3.6M319.12,476.00h3.6" stroke="#1ba2c4" stroke-width="1"/>
<path d="M320.92,474.30L323.92,468.40L317.92,468.40Z" fill="#1ba2c4"/>
<path d="M333.44,453.80V463.80" stroke="#1ba2c4" stroke-width="1" stroke-dasharray="4,2,1,2"/>
<path d="M331.64,453.80h3.6M331.64,463.80h3.6" stroke="#1ba2c4" stroke-width="1"/>
<path d="M333.44,462.10L336.44,456.20L330.44,456.20Z" fill="#1ba2c4"/>
<path d="M345.96,451.00V461.00" stroke="#1ba2c4" stroke-width="1" stroke-dasharray="4,2,1,2"/>
<path d="M344.16,451.00h3.6M344.16,461.00h3.6" stroke="#1ba2c4" stroke-width="1"/>
<path d="M345.96,459.30L348.96,453.40L342.96,453.40Z" fill="#1ba2c4"/>
<path d="M358.48,485.00V495.00" stroke="#1ba2c4" stroke-width="1" stroke-dasharray="4,2,1,2"/>
<path d="M356.68,485.00h3.6M356.68,495.00h3.6" stroke="#1ba2c4" stroke-width="1"/>
<path d="M358.48,493.30L361.48,487.40L355.48,487.40Z" fill="#1ba2c4"/>
<polyline points="58.02,175.49 70.54,266.40 83.06,320.70 95.58,386.30 108.10,430.40 120.62,450.10 133.13,447.70 145.65,445.00 158.17,433.80 170.69,423.60 183.21,408.90 195.73,394.50 208.25,383.00 220.77,374.20 233.29,361.90 245.81,352.70 258.33,353.30 270.85,360.00 283.37,357.70 295.88,380.40 308.40,373.30 320.92,353.10 333.44,372.80 345.96,364.60 358.48,359.70" fill="none" stroke="#ff0000" stroke-width="1.3" stroke-dasharray="1,1.5"/>
<path d="M58.02,171.99L60.22,175.49L58.02,178.99L55.82,175.49Z" fill="#ff0000"/>
<path d="M70.54,262.90L72.74,266.40L70.54,269.90L68.34,266.40Z" fill="#ff0000"/>
<path d="M83.06,317.20L85.26,320.70L83.06,324.20L80.86,320.70Z" fill="#ff0000"/>
<path d="M95.58,382.80L97.78,386.30L95.58,389.80L93.38,386.30Z" fill="#ff0000"/>
<path d="M108.10,426.90L110.30,430.40L108.10,433.90L105.90,430.40Z" fill="#ff0000"/>
<path d="M120.62,446.60L122.82,450.10L120.62,453.60L118.42,450.10Z" fill="#ff0000"/>
<path d="M133.13,444.20L135.33,447.70L133.13,451.20L130.93,447.70Z" fill="#ff0000"/>
<path d="M145.65,441.50L147.85,445.00L145.65,448.50L143.45,445.00Z" fill="#ff0000"/>
<path d="M158.17,430.30L160.37,433.80L158.17,437.30L155.97,433.80Z" fill="#ff0000"/>
<path d="M170.69,420.10L172.89,423.60L170.69,427.10L168.49,423.60Z" fill="#ff0000"/>
<path d="M183.21,405.40L185.41,408.90L183.21,412.40L181.01,408.90Z" fill="#ff0000"/>
<path d="M195.73,391.00L197.93,394.50L195.73,398.00L193.53,394.50Z" fill="#ff0000"/>
<path d="M208.25,379.00V387.00" stroke="#ff0000" stroke-width="1" stroke-dasharray="1,1.5"/>
<path d="M208.25,379.50L210.45,383.00L208.25,386.50L206.05,383.00Z" fill="#ff0000"/>
<path d="M220.77,370.20V378.20" stroke="#ff0000" stroke-width="1" stroke-dasharray="1,1.5"/>
<path d="M220.77,370.70L222.97,374.20L220.77,377.70L218.57,374.20Z" fill="#ff0000"/>
<path d="M233.29,357.90V365.90" stroke="#ff0000" stroke-width="1" stroke-dasharray="1,1.5"/>
<path d="M233.29,358.40L235.49,361.90L233.29,365.40L231.09,361.90Z" fill="#ff0000"/>
<path d="M245.81,348.70V356.70" stroke="#ff0000" stroke-width="1" stroke-dasharray="1,1.5"/>
<path d="M245.81,349.20L248.01,352.70L245.81,356.20L243.61,352.70Z" fill="#ff0000"/>
<path d="M258.33,349.30V357.30" stroke="#ff0000" stroke-width="1" stroke-dasharray="1,1.5"/>
<path d="M258.33,349.80L260.53,353.30L258.33,356.80L256.13,353.30Z" fill="#ff0000"/>
<path d="M270.85,356.00V364.00" stroke="#ff0000" stroke-width="1" stroke-dasharray="1,1.5"/>
<path d="M270.85,356.50L273.05,360.00L270.85,363.50L268.65,360.00Z" fill="#ff0000"/>
<path d="M283.37,353.70V361.70" stroke="#ff0000" stroke-width="1" stroke-dasharray="1,1.5"/>
<path d="M283.37,354.20L285.57,357.70L283.37,361.20L281.17,357.70Z" fill="#ff0000"/>
<path d="M295.88,376.40V384.40" stroke="#ff0000" stroke-width="1" stroke-dasharray="1,1.5"/>
<path d="M295.88,376.90L298.08,380.40L295.88,383.90L293.68,380.40Z" fill="#ff0000"/>
<path d="M308.40,369.30V377.30" stroke="#ff0000" stroke-width="1" stroke-dasharray="1,1.5"/>
<path d="M308.40,369.80L310.60,373.30L308.40,376.80L306.20,373.30Z" fill="#ff0000"/>
<path d="M320.92,349.10V357.10" stroke="#ff0000" stroke-width="1" stroke-dasharray="1,1.5"/>
<path d="M320.92,349.60L323.12,353.10L320.92,356.60L318.72,353.10Z" fill="#ff0000"/>
<path d="M333.44,368.80V376.80" stroke="#ff0000" stroke-width="1" stroke-dasharray="1,1.5"/>
<path d="M333.44,369.30L335.64,372.80L333.44,376.30L331.24,372.80Z" fill="#ff0000"/>
<path d="M345.96,360.60V368.60" stroke="#ff0000" stroke-width="1" stroke-dasharray="1,1.5"/>
<path d="M345.96,361.10L348.16,364.60L345.96,368.10L343.76,364.60Z" fill="#ff0000"/>
<path d="M358.48,355.70V363.70" stroke="#ff0000" stroke-width="1" stroke-dasharray="1,1.5"/>
<path d="M358.48,356.20L360.68,359.70L358.48,363.20L356.28,359.70Z" fill="#ff0000"/>
</g>
<g fill="none" stroke="#000" stroke-width="1.4">
<rect x="45.5" y="17.5" width="325.5" height="300.0"/>
<rect x="45.5" y="317.5" width="325.5" height="160.0"/>
</g>
<path d="M45.5,310.59h5.5M371.0,310.59h-5.5M45.5,300.82h5.5M371.0,300.82h-5.5M45.5,293.89h5.5M371.0,293.89h-5.5M45.5,288.51h5.5M371.0,288.51h-5.5M45.5,284.11h5.5M371.0,284.11h-5.5M45.5,280.40h5.5M371.0,280.40h-5.5M45.5,277.18h5.5M371.0,277.18h-5.5M45.5,274.34h5.5M371.0,274.34h-5.5M45.5,271.80h11M371.0,271.80h-11M45.5,255.09h5.5M371.0,255.09h-5.5M45.5,245.32h5.5M371.0,245.32h-5.5M45.5,238.39h5.5M371.0,238.39h-5.5M45.5,233.01h5.5M371.0,233.01h-5.5M45.5,228.61h5.5M371.0,228.61h-5.5M45.5,224.90h5.5M371.0,224.90h-5.5M45.5,221.68h5.5M371.0,221.68h-5.5M45.5,218.84h5.5M371.0,218.84h-5.5M45.5,216.30h11M371.0,216.30h-11M45.5,199.59h5.5M371.0,199.59h-5.5M45.5,189.82h5.5M371.0,189.82h-5.5M45.5,182.89h5.5M371.0,182.89h-5.5M45.5,177.51h5.5M371.0,177.51h-5.5M45.5,173.11h5.5M371.0,173.11h-5.5M45.5,169.40h5.5M371.0,169.40h-5.5M45.5,166.18h5.5M371.0,166.18h-5.5M45.5,163.34h5.5M371.0,163.34h-5.5M45.5,160.80h11M371.0,160.80h-11M45.5,144.09h5.5M371.0,144.09h-5.5M45.5,134.32h5.5M371.0,134.32h-5.5M45.5,127.39h5.5M371.0,127.39h-5.5M45.5,122.01h5.5M371.0,122.01h-5.5M45.5,117.61h5.5M371.0,117.61h-5.5M45.5,113.90h5.5M371.0,113.90h-5.5M45.5,110.68h5.5M371.0,110.68h-5.5M45.5,107.84h5.5M371.0,107.84h-5.5M45.5,105.30h11M371.0,105.30h-11M45.5,88.59h5.5M371.0,88.59h-5.5M45.5,78.82h5.5M371.0,78.82h-5.5M45.5,71.89h5.5M371.0,71.89h-5.5M45.5,66.51h5.5M371.0,66.51h-5.5M45.5,62.11h5.5M371.0,62.11h-5.5M45.5,58.40h5.5M371.0,58.40h-5.5M45.5,55.18h5.5M371.0,55.18h-5.5M45.5,52.34h5.5M371.0,52.34h-5.5M45.5,49.80h11M371.0,49.80h-11M45.5,33.09h5.5M371.0,33.09h-5.5M45.5,23.32h5.5M371.0,23.32h-5.5M45.5,477.49h5M371.0,477.49h-5M45.5,458.01h7M371.0,458.01h-7M45.5,442.09h5M371.0,442.09h-5M45.5,428.64h5M371.0,428.64h-5M45.5,416.98h5M371.0,416.98h-5M45.5,406.70h5M371.0,406.70h-5M45.5,397.50h7M371.0,397.50h-7M45.5,389.18h5M371.0,389.18h-5M45.5,381.58h5M371.0,381.58h-5M45.5,374.60h5M371.0,374.60h-5M45.5,368.13h5M371.0,368.13h-5M45.5,362.11h5M371.0,362.11h-5M45.5,356.47h5M371.0,356.47h-5M45.5,351.18h5M371.0,351.18h-5M45.5,346.19h5M371.0,346.19h-5M45.5,341.47h5M371.0,341.47h-5M45.5,336.99h7M371.0,336.99h-7M45.5,332.73h5M371.0,332.73h-5M45.5,328.67h5M371.0,328.67h-5M45.5,324.79h5M371.0,324.79h-5M45.5,321.08h5M371.0,321.08h-5M45.5,317.51h5M371.0,317.51h-5M45.50,477.5v-2M45.50,317.5v-2M45.50,17.5v2M45.50,317.5v2M58.02,477.5v-2M58.02,317.5v-2M58.02,17.5v2M58.02,317.5v2M70.54,477.5v-2M70.54,317.5v-2M70.54,17.5v2M70.54,317.5v2M83.06,477.5v-2M83.06,317.5v-2M83.06,17.5v2M83.06,317.5v2M95.58,477.5v-2M95.58,317.5v-2M95.58,17.5v2M95.58,317.5v2M108.10,477.5v-2M108.10,317.5v-2M108.10,17.5v2M108.10,317.5v2M120.62,477.5v-5M120.62,317.5v-8M120.62,17.5v8M120.62,317.5v5M133.13,477.5v-2M133.13,317.5v-2M133.13,17.5v2M133.13,317.5v2M145.65,477.5v-2M145.65,317.5v-2M145.65,17.5v2M145.65,317.5v2M158.17,477.5v-2M158.17,317.5v-2M158.17,17.5v2M158.17,317.5v2M170.69,477.5v-2M170.69,317.5v-2M170.69,17.5v2M170.69,317.5v2M183.21,477.5v-2M183.21,317.5v-2M183.21,17.5v2M183.21,317.5v2M195.73,477.5v-2M195.73,317.5v-2M195.73,17.5v2M195.73,317.5v2M208.25,477.5v-2M208.25,317.5v-2M208.25,17.5v2M208.25,317.5v2M220.77,477.5v-2M220.77,317.5v-2M220.77,17.5v2M220.77,317.5v2M233.29,477.5v-2M233.29,317.5v-2M233.29,17.5v2M233.29,317.5v2M245.81,477.5v-5M245.81,317.5v-8M245.81,17.5v8M245.81,317.5v5M258.33,477.5v-2M258.33,317.5v-2M258.33,17.5v2M258.33,317.5v2M270.85,477.5v-2M270.85,317.5v-2M270.85,17.5v2M270.85,317.5v2M283.37,477.5v-2M283.37,317.5v-2M283.37,17.5v2M283.37,317.5v2M295.88,477.5v-2M295.88,317.5v-2M295.88,17.5v2M295.88,317.5v2M308.40,477.5v-2M308.40,317.5v-2M308.40,17.5v2M308.40,317.5v2M320.92,477.5v-2M320.92,317.5v-2M320.92,17.5v2M320.92,317.5v2M333.44,477.5v-2M333.44,317.5v-2M333.44,17.5v2M333.44,317.5v2M345.96,477.5v-2M345.96,317.5v-2M345.96,17.5v2M345.96,317.5v2M358.48,477.5v-2M358.48,317.5v-2M358.48,17.5v2M358.48,317.5v2M371.00,477.5v-5M371.00,317.5v-8M371.00,17.5v8M371.00,317.5v5" stroke="#000" stroke-width="1" fill="none"/>
<g fill="#000" font-size="12.2">
<text x="51.3" y="14.2" textLength="79" lengthAdjust="spacingAndGlyphs">13000 GeV pp</text>
<text x="365.5" y="14.2" text-anchor="end">Z+Jet</text>
</g>
<text x="132.2" y="43.5" font-size="11.2" textLength="27" lengthAdjust="spacingAndGlyphs">&lt;pT&gt;</text>
<text x="163.5" y="43" font-size="9.6" textLength="123" lengthAdjust="spacingAndGlyphs">(ATLAS UE in Z production)</text>
<g font-size="11.5" text-anchor="end">
<text x="40.3" y="54.0">10</text>
<text x="40.3" y="109.5">1</text>
</g>
<text x="21.8" y="166.4" font-size="11.5" textLength="12.2" lengthAdjust="spacingAndGlyphs">10</text><text x="33.5" y="161.6" font-size="7.8" textLength="7.2" lengthAdjust="spacingAndGlyphs">−1</text>
<text x="19.6" y="221.9" font-size="11.5" textLength="12.2" lengthAdjust="spacingAndGlyphs">10</text><text x="31.3" y="217.1" font-size="7.8" textLength="8" lengthAdjust="spacingAndGlyphs">−2</text>
<text x="19.6" y="277.4" font-size="11.5" textLength="12.2" lengthAdjust="spacingAndGlyphs">10</text><text x="31.3" y="272.6" font-size="7.8" textLength="8" lengthAdjust="spacingAndGlyphs">−3</text>
<g font-size="11.5" text-anchor="end">
<text x="38.6" y="341.2">2</text>
<text x="38.6" y="401.7">1</text>
<text x="38.6" y="462.2">0.5</text>
</g>
<text x="373.3" y="341.2" font-size="11.5">2</text>
<text x="373.3" y="401.7" font-size="11.5">1</text>
<text x="373.3" y="462.2" font-size="11.5">0.5</text>
<text x="120.62" y="488.7" font-size="11.5" text-anchor="middle">1</text>
<text x="245.81" y="488.7" font-size="11.5" text-anchor="middle">2</text>
<text x="371.00" y="488.7" font-size="11.5" text-anchor="middle">3</text>
<text transform="translate(17.6,396.5) rotate(-90)" font-size="9.1" text-anchor="middle">Ratio to ATLAS</text>
<text transform="translate(380,17.5) rotate(-90)" font-size="9.5" fill="#6c6c6c" text-anchor="end">Rivet 4.1.0, ≥ 1.8M events</text>
<text transform="translate(380.2,314.5) rotate(-90)" font-size="9.5" fill="#6c6c6c">mcplots.cern.ch [arXiv:1306.3436]</text>
<text x="162.8" y="301.3" font-size="8" fill="#8c8c8c" textLength="88" lengthAdjust="spacingAndGlyphs">(ATLAS_2019_I1736531)</text>
<rect x="73.60" y="207.80" width="5.60" height="5.60" fill="#000"/>
<line x1="64" y1="223.7" x2="89" y2="223.7" stroke="#b8651d" stroke-width="1.1" stroke-dasharray="2.5,2"/>
<circle cx="76.40" cy="223.70" r="2.55" fill="none" stroke="#b8651d" stroke-width="1"/>
<line x1="64" y1="236.8" x2="89" y2="236.8" stroke="#49a636" stroke-width="1.1" stroke-dasharray="2.5,2"/>
<rect x="73.70" y="234.10" width="5.40" height="5.40" fill="none" stroke="#49a636" stroke-width="1.1"/>
<line x1="64" y1="249.9" x2="89" y2="249.9" stroke="#0000ff" stroke-width="1.1"/>
<path d="M76.40,246.90L79.20,252.20L73.60,252.20Z" fill="#0000ff"/>
<line x1="64" y1="263" x2="89" y2="263" stroke="#1ba2c4" stroke-width="1.1" stroke-dasharray="4,2,1,2"/>
<path d="M76.40,266.30L79.40,260.40L73.40,260.40Z" fill="#1ba2c4"/>
<line x1="64" y1="276.1" x2="89" y2="276.1" stroke="#ff0000" stroke-width="1.1" stroke-dasharray="1,1.5"/>
<path d="M76.40,272.60L78.60,276.10L76.40,279.60L74.20,276.10Z" fill="#ff0000"/>
<text x="94.3" y="214.0" font-size="9.4">ATLAS</text>
<text x="94.3" y="227.1" font-size="9.4">Herwig++ 2.7.1 default</text>
<text x="94.3" y="240.2" font-size="9.4">Herwig 7.2.1 default</text>
<text x="94.3" y="253.3" font-size="9.4">Pythia 8.315 default</text>
<text x="94.3" y="266.4" font-size="9.4">Pythia 8.315 vincia-default</text>
<text x="94.3" y="279.5" font-size="9.4">Sherpa 2.2.9 default</text>
</svg></body></html>
